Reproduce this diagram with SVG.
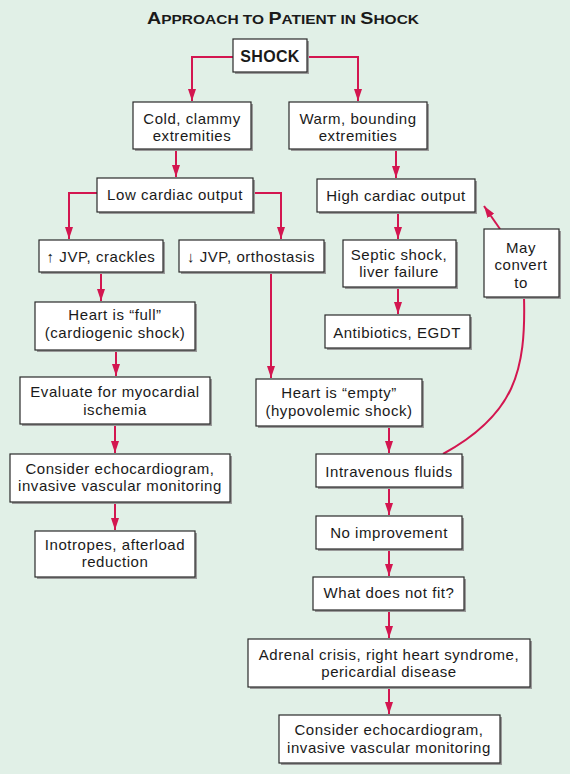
<svg xmlns="http://www.w3.org/2000/svg" width="570" height="774" viewBox="0 0 570 774">
<defs>
<style>
.bg{fill:#e1f0e7}
.box{fill:#ffffff;stroke:#2a2a2a;stroke-width:1.2}
.sh{fill:#9a9a9a}
.t{font-family:"Liberation Sans",Arial,sans-serif;font-size:15px;letter-spacing:0.55px;fill:#1a1a1a;text-anchor:middle}
.b{font-weight:bold;font-size:16px;letter-spacing:0.3px}
.ttl{font-family:"Liberation Sans",Arial,sans-serif;font-weight:bold;fill:#1a1a1a}
.c{fill:none;stroke:#d31650;stroke-width:2}
</style>
<marker id="ah" viewBox="0 0 12 8" refX="12" refY="4" markerWidth="12" markerHeight="8" markerUnits="userSpaceOnUse" orient="auto">
<path d="M0,0 L12,4 L0,8 Z" fill="#d31650"/>
</marker>
</defs>
<rect class="bg" x="0" y="0" width="570" height="774"/>
<text class="ttl" x="147" y="24" textLength="272" lengthAdjust="spacingAndGlyphs"><tspan font-size="16.5">A</tspan><tspan font-size="13">PPROACH TO </tspan><tspan font-size="16.5">P</tspan><tspan font-size="13">ATIENT IN </tspan><tspan font-size="16.5">S</tspan><tspan font-size="13">HOCK</tspan></text>

<g id="connectors">
<path class="c" d="M233,57 H192 V101" marker-end="url(#ah)"/>
<path class="c" d="M307,57 H358 V101" marker-end="url(#ah)"/>
<path class="c" d="M176,149 V177" marker-end="url(#ah)"/>
<path class="c" d="M396,149 V178" marker-end="url(#ah)"/>
<path class="c" d="M97,193 H69 V239" marker-end="url(#ah)"/>
<path class="c" d="M253,193 H281 V239" marker-end="url(#ah)"/>
<path class="c" d="M101,272 V301" marker-end="url(#ah)"/>
<path class="c" d="M271,272 V378" marker-end="url(#ah)"/>
<path class="c" d="M398,212 V239" marker-end="url(#ah)"/>
<path class="c" d="M398,287 V314" marker-end="url(#ah)"/>
<path class="c" d="M116,350 V376" marker-end="url(#ah)"/>
<path class="c" d="M115,424 V453" marker-end="url(#ah)"/>
<path class="c" d="M115,502 V530" marker-end="url(#ah)"/>
<path class="c" d="M389,426 V453" marker-end="url(#ah)"/>
<path class="c" d="M389,487 V515" marker-end="url(#ah)"/>
<path class="c" d="M389,549 V576" marker-end="url(#ah)"/>
<path class="c" d="M389,610 V638" marker-end="url(#ah)"/>
<path class="c" d="M389,687 V714" marker-end="url(#ah)"/>
<path class="c" d="M443,454 C515,415 526,370 524,297"/>
<path class="c" d="M500,229 L484,206" marker-end="url(#ah)"/>
</g>

<g id="shock"><rect class="sh" x="235" y="41" width="74" height="33"/><rect class="box" x="233" y="39" width="74" height="33"/><text class="t b" x="270" y="62">SHOCK</text></g>
<g id="cold"><rect class="sh" x="135" y="104" width="118" height="47"/><rect class="box" x="133" y="102" width="118" height="47"/><text class="t" x="192" y="124">Cold, clammy</text><text class="t" x="192" y="141">extremities</text></g>
<g id="warm"><rect class="sh" x="291" y="104" width="138" height="47"/><rect class="box" x="289" y="102" width="138" height="47"/><text class="t" x="358" y="124">Warm, bounding</text><text class="t" x="358" y="141">extremities</text></g>
<g id="low"><rect class="sh" x="99" y="180" width="156" height="34"/><rect class="box" x="97" y="178" width="156" height="34"/><text class="t" x="175" y="200">Low cardiac output</text></g>
<g id="high"><rect class="sh" x="319" y="181" width="158" height="33"/><rect class="box" x="317" y="179" width="158" height="33"/><text class="t" x="396" y="201">High cardiac output</text></g>
<g id="jvp-up"><rect class="sh" x="41" y="242" width="124" height="32"/><rect class="box" x="39" y="240" width="124" height="32"/><text class="t" x="101" y="262">↑ JVP, crackles</text></g>
<g id="jvp-down"><rect class="sh" x="181" y="242" width="145" height="32"/><rect class="box" x="179" y="240" width="145" height="32"/><text class="t" x="251" y="262">↓ JVP, orthostasis</text></g>
<g id="septic"><rect class="sh" x="345" y="242" width="113" height="47"/><rect class="box" x="343" y="240" width="113" height="47"/><text class="t" x="399" y="260">Septic shock,</text><text class="t" x="399" y="277">liver failure</text></g>
<g id="antibiotics"><rect class="sh" x="327" y="317" width="145" height="33"/><rect class="box" x="325" y="315" width="145" height="33"/><text class="t" x="397" y="338">Antibiotics, EGDT</text></g>
<g id="may"><rect class="sh" x="486" y="231" width="75" height="68"/><rect class="box" x="484" y="229" width="75" height="68"/><text class="t" x="521" y="253">May</text><text class="t" x="521" y="270">convert</text><text class="t" x="521" y="288">to</text></g>
<g id="full"><rect class="sh" x="37" y="304" width="160" height="48"/><rect class="box" x="35" y="302" width="160" height="48"/><text class="t" x="115" y="320">Heart is “full”</text><text class="t" x="115" y="338">(cardiogenic shock)</text></g>
<g id="evaluate"><rect class="sh" x="22" y="379" width="190" height="47"/><rect class="box" x="20" y="377" width="190" height="47"/><text class="t" x="115" y="397">Evaluate for myocardial</text><text class="t" x="115" y="415">ischemia</text></g>
<g id="empty"><rect class="sh" x="258" y="381" width="166" height="47"/><rect class="box" x="256" y="379" width="166" height="47"/><text class="t" x="339" y="398">Heart is “empty”</text><text class="t" x="339" y="416">(hypovolemic shock)</text></g>
<g id="consider-left"><rect class="sh" x="12" y="456" width="220" height="48"/><rect class="box" x="10" y="454" width="220" height="48"/><text class="t" x="120" y="474">Consider echocardiogram,</text><text class="t" x="120" y="491">invasive vascular monitoring</text></g>
<g id="iv"><rect class="sh" x="318" y="456" width="146" height="33"/><rect class="box" x="316" y="454" width="146" height="33"/><text class="t" x="389" y="477">Intravenous fluids</text></g>
<g id="noimp"><rect class="sh" x="318" y="518" width="146" height="33"/><rect class="box" x="316" y="516" width="146" height="33"/><text class="t" x="389" y="538">No improvement</text></g>
<g id="inotropes"><rect class="sh" x="37" y="533" width="160" height="46"/><rect class="box" x="35" y="531" width="160" height="46"/><text class="t" x="115" y="550">Inotropes, afterload</text><text class="t" x="115" y="567">reduction</text></g>
<g id="what"><rect class="sh" x="315" y="579" width="151" height="33"/><rect class="box" x="313" y="577" width="151" height="33"/><text class="t" x="389" y="598">What does not fit?</text></g>
<g id="adrenal"><rect class="sh" x="250" y="641" width="282" height="48"/><rect class="box" x="248" y="639" width="282" height="48"/><text class="t" x="389" y="660">Adrenal crisis, right heart syndrome,</text><text class="t" x="389" y="677">pericardial disease</text></g>
<g id="consider-right"><rect class="sh" x="281" y="717" width="221" height="48"/><rect class="box" x="279" y="715" width="221" height="48"/><text class="t" x="389" y="735">Consider echocardiogram,</text><text class="t" x="389" y="753">invasive vascular monitoring</text></g>
</svg>
